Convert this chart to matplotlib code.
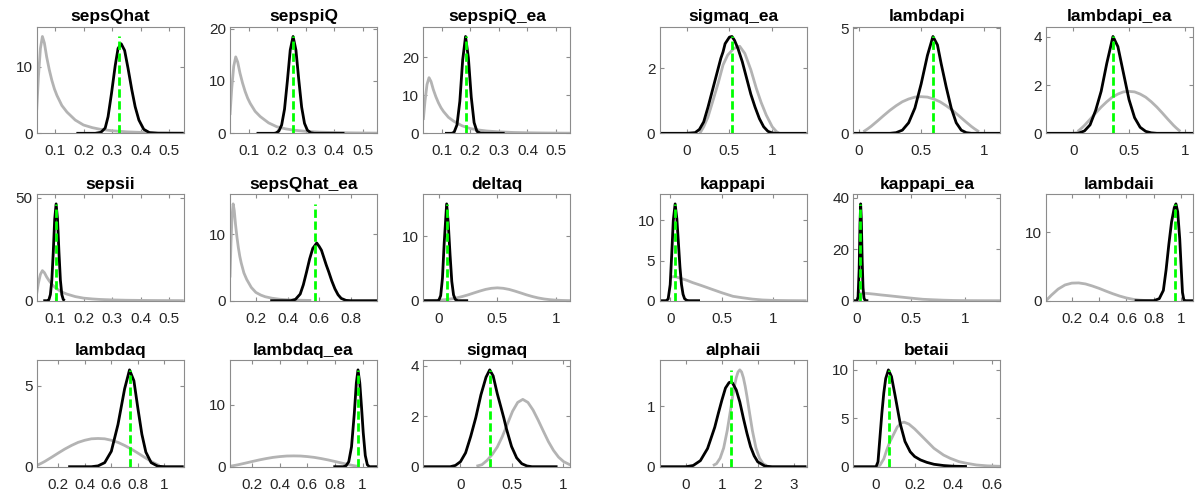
import matplotlib
matplotlib.use("Agg")
import matplotlib.pyplot as plt
from matplotlib.ticker import FormatStrFormatter

plt.rcParams['font.family'] = ['Liberation Sans', 'DejaVu Sans']

# ---- shared priors ----
seps_prior_x = [0.035, 0.041, 0.048, 0.055, 0.062, 0.07, 0.079, 0.088, 0.097, 0.106, 0.123, 0.141,
                0.17, 0.199, 0.23, 0.258, 0.3, 0.35, 0.4, 0.45, 0.5, 0.55]
seps_prior_y = [3.5, 8.5, 12.8, 14.6, 13.6, 11.5, 9.6, 8.0, 6.7, 5.7, 4.2, 3.2,
                2.0, 1.25, 0.85, 0.6, 0.38, 0.22, 0.14, 0.09, 0.06, 0.04]

beta_prior_x = [0.038, 0.05, 0.075, 0.1, 0.15, 0.2, 0.25, 0.3, 0.35, 0.4, 0.45, 0.5,
                0.55, 0.6, 0.65, 0.7, 0.75, 0.8, 0.85, 0.9, 0.925, 0.95, 0.962]
beta_prior_y = [0.08, 0.12, 0.22, 0.33, 0.58, 0.84, 1.09, 1.31, 1.5, 1.63, 1.72, 1.74,
                1.72, 1.63, 1.5, 1.31, 1.09, 0.84, 0.58, 0.33, 0.22, 0.12, 0.08]

kappa_prior_x = [0.0, 0.03, 0.06, 0.1, 0.16, 0.22, 0.29, 0.35, 0.4, 0.5, 0.61, 0.7, 0.8, 0.9,
                 1.0, 1.15, 1.326]
kappa_prior_y = [2.9, 3.0, 2.95, 2.8, 2.55, 2.25, 1.95, 1.68, 1.45, 1.0, 0.55, 0.37, 0.2, 0.09,
                 0.04, 0.015, 0.0]

# ---- posteriors and modes ----
sepsQhat_x = [0.174, 0.24, 0.26, 0.275, 0.285, 0.297, 0.31, 0.32, 0.331, 0.343, 0.355, 0.368,
              0.38, 0.393, 0.41, 0.43, 0.46, 0.55]
sepsQhat_y = [0, 0, 0.15, 0.8, 2.5, 6.0, 10.2, 12.8, 13.5, 12.5, 9.8, 6.6,
              4.0, 2.0, 0.6, 0.1, 0, 0]
sepsQhat_mode = 0.325

sepspiQ_x = [0.128, 0.19, 0.196, 0.206, 0.216, 0.226, 0.236, 0.246, 0.256, 0.266, 0.276, 0.286,
             0.296, 0.306, 0.318, 0.33, 0.436]
sepspiQ_y = [0, 0, 0.07, 0.4, 1.6, 4.6, 10, 15.9, 18.5, 15.9, 10.2, 5.0,
             1.9, 0.6, 0.1, 0, 0]
sepspiQ_mode = 0.254

sepspiQ_ea_x = [0.111, 0.135, 0.143, 0.153, 0.163, 0.173, 0.183, 0.193, 0.203, 0.213, 0.223,
                0.235, 0.25, 0.32]
sepspiQ_ea_y = [0, 0, 0.3, 2.2, 8.4, 19.3, 25.4, 19.8, 9.5, 2.8, 0.5, 0.05, 0, 0]
sepspiQ_ea_mode = 0.183

sigmaq_ea_prior_x = [0.155, 0.2, 0.25, 0.31, 0.37, 0.426, 0.48, 0.55, 0.62, 0.68, 0.75,
                     0.814, 0.87, 0.93, 1.0, 1.05, 1.085]
sigmaq_ea_prior_y = [0, 0.2, 0.5, 1.02, 1.55, 2.1, 2.4, 2.6, 2.67, 2.45, 1.95,
                     1.38, 0.95, 0.56, 0.2, 0.05, 0]
sigmaq_ea_x = [-0.316, 0.0, 0.1, 0.15, 0.2, 0.25, 0.3, 0.35, 0.4, 0.426, 0.45, 0.5, 0.53, 0.56,
               0.6, 0.65, 0.7, 0.75, 0.8, 0.85, 0.9, 0.95, 1.0, 1.05, 1.4]
sigmaq_ea_y = [0, 0, 0.02, 0.12, 0.35, 0.8, 1.3, 1.8, 2.3, 2.5, 2.75, 2.95, 2.97, 2.85,
               2.6, 2.2, 1.7, 1.2, 0.8, 0.45, 0.2, 0.06, 0.01, 0, 0]
sigmaq_ea_mode = 0.532

lambdapi_x = [-0.042, 0.25, 0.3, 0.35, 0.4, 0.45, 0.5, 0.55, 0.594, 0.63, 0.66, 0.7, 0.74,
              0.78, 0.82, 0.86, 0.9, 1.132]
lambdapi_y = [0, 0, 0.03, 0.15, 0.5, 1.2, 2.35, 3.7, 4.6, 4.2, 3.3, 2.2, 1.2,
              0.5, 0.15, 0.03, 0, 0]
lambdapi_mode = 0.594

lambdapi_ea_x = [-0.246, 0.0, 0.05, 0.1, 0.15, 0.2, 0.25, 0.3, 0.356, 0.4, 0.45, 0.5, 0.55,
                 0.6, 0.65, 0.7, 0.75, 1.075]
lambdapi_ea_y = [0, 0, 0.01, 0.1, 0.35, 0.95, 1.75, 2.9, 4.02, 3.6, 2.5, 1.4, 0.65,
                 0.25, 0.08, 0.02, 0, 0]
lambdapi_ea_mode = 0.356

sepsii_x = [0.058, 0.075, 0.078, 0.083, 0.088, 0.093, 0.098, 0.103, 0.108, 0.113, 0.118,
            0.123, 0.128, 0.133]
sepsii_y = [0, 0, 0.6, 3, 10, 23.5, 39.5, 47, 39.5, 23.5, 10, 3, 0.6, 0]
sepsii_mode = 0.102

sepsQhat_ea_x = [0.29, 0.42, 0.45, 0.48, 0.5, 0.52, 0.54, 0.56, 0.585, 0.6, 0.615, 0.63, 0.645,
                 0.661, 0.68, 0.7, 0.72, 0.74, 0.77, 0.8, 0.967]
sepsQhat_ea_y = [0, 0, 0.2, 1.0, 2.4, 4.3, 6.3, 7.9, 8.7, 8.2, 7.6, 6.5, 5.4,
                 4.35, 3.0, 1.8, 0.9, 0.35, 0.05, 0, 0]
sepsQhat_ea_mode = 0.575

deltaq_prior_x = [-0.13, -0.05, 0.0, 0.05, 0.1, 0.15, 0.2, 0.25, 0.3, 0.35, 0.4, 0.45, 0.5,
                  0.55, 0.6, 0.65, 0.7, 0.75, 0.8, 0.85, 0.9, 0.95, 1.0, 1.05, 1.125]
deltaq_prior_y = [0.01, 0.044, 0.09, 0.16, 0.27, 0.43, 0.65, 0.91, 1.21, 1.5, 1.76, 1.93, 2.0,
                  1.93, 1.76, 1.5, 1.21, 0.91, 0.65, 0.43, 0.27, 0.16, 0.09, 0.044, 0.01]
deltaq_x = [-0.134, -0.01, 0.0, 0.015, 0.03, 0.045, 0.066, 0.08, 0.095, 0.11, 0.125, 0.14,
            0.16, 0.25]
deltaq_y = [0, 0, 0.1, 0.8, 3.5, 9, 15.06, 12, 7.2, 3, 0.9, 0.2, 0, 0]
deltaq_mode = 0.066

kappapi_x = [-0.104, -0.04, -0.02, 0.0, 0.015, 0.03, 0.048, 0.065, 0.08, 0.095, 0.11, 0.125,
             0.14, 0.16, 0.18, 0.29]
kappapi_y = [0, 0, 0.2, 2.0, 5.8, 10, 12.07, 10.2, 7.2, 4.2, 2.0, 0.8, 0.25, 0.05, 0, 0]
kappapi_mode = 0.048

kappapi_ea_x = [-0.034, 0.0, 0.01, 0.02, 0.028, 0.034, 0.04, 0.048, 0.056, 0.065, 0.075,
                0.085, 0.105]
kappapi_ea_y = [0, 0, 1.5, 12, 30, 37.6, 32, 16, 5, 1, 0.1, 0, 0]
kappapi_ea_mode = 0.03

lambdaii_prior_x = [0.011, 0.05, 0.1, 0.15, 0.2, 0.25, 0.3, 0.35, 0.4, 0.45, 0.5, 0.55, 0.6,
                    0.65, 0.7, 0.75, 0.8]
lambdaii_prior_y = [0.0, 0.8, 1.7, 2.3, 2.57, 2.6, 2.45, 2.15, 1.8, 1.4, 1.02, 0.68, 0.4,
                    0.2, 0.08, 0.02, 0.0]
lambdaii_x = [0.66, 0.8, 0.84, 0.87, 0.89, 0.91, 0.93, 0.95, 0.962, 0.975, 0.99, 1.0, 1.01,
              1.02, 1.03, 1.087]
lambdaii_y = [0, 0, 0.3, 1.5, 4.5, 8.2, 11.5, 13.6, 14.15, 13, 9, 5, 1.2, 0.1, 0, 0]
lambdaii_mode = 0.952

lambdaq_x = [0.275, 0.45, 0.5, 0.55, 0.6, 0.65, 0.7, 0.737, 0.77, 0.8, 0.83, 0.86, 0.9,
             0.95, 1.0, 1.145]
lambdaq_y = [0, 0, 0.05, 0.25, 0.95, 2.6, 4.8, 5.97, 5.3, 3.6, 2.0, 0.9, 0.25, 0.03, 0, 0]
lambdaq_mode = 0.737

lambdaq_ea_x = [0.788, 0.86, 0.88, 0.9, 0.92, 0.94, 0.955, 0.967, 0.98, 0.993, 1.005, 1.02,
                1.035, 1.05, 1.105]
lambdaq_ea_y = [0, 0, 0.15, 0.8, 3.2, 8.5, 13.5, 15.6, 13.5, 9.5, 5.5, 1.8, 0.3, 0, 0]
lambdaq_ea_mode = 0.965

sigmaq_prior_x = [0.156, 0.21, 0.26, 0.31, 0.36, 0.41, 0.46, 0.51, 0.56, 0.61, 0.66, 0.71,
                  0.76, 0.81, 0.86, 0.91, 0.96, 1.01, 1.075]
sigmaq_prior_y = [0.02, 0.08, 0.25, 0.48, 0.78, 1.2, 1.7, 2.2, 2.55, 2.67, 2.55, 2.25,
                  1.85, 1.42, 1.0, 0.65, 0.38, 0.2, 0.07]
sigmaq_x = [-0.364, -0.1, -0.05, 0.0, 0.05, 0.1, 0.15, 0.2, 0.25, 0.286, 0.32, 0.36, 0.4,
            0.425, 0.45, 0.5, 0.55, 0.6, 0.65, 0.7, 0.95]
sigmaq_y = [0, 0, 0.05, 0.2, 0.55, 1.2, 1.95, 2.85, 3.55, 3.84, 3.6, 2.9, 2.3,
            1.92, 1.5, 0.8, 0.35, 0.12, 0.03, 0, 0]
sigmaq_mode = 0.286

alphaii_prior_x = [0.75, 0.85, 0.95, 1.05, 1.15, 1.25, 1.3, 1.35, 1.4, 1.45, 1.5, 1.55, 1.6,
                   1.65, 1.7, 1.75, 1.85, 1.95, 2.05, 2.15, 2.25]
alphaii_prior_y = [0.018, 0.05, 0.14, 0.31, 0.6, 0.97, 1.16, 1.33, 1.47, 1.565, 1.6, 1.565, 1.47,
                   1.33, 1.16, 0.97, 0.6, 0.31, 0.14, 0.05, 0.018]
alphaii_x = [-0.74, 0.0, 0.2, 0.4, 0.6, 0.8, 0.9, 1.0, 1.1, 1.2, 1.25, 1.3, 1.4, 1.5, 1.6,
             1.7, 1.8, 1.9, 2.0, 2.2, 2.4, 3.36]
alphaii_y = [0, 0, 0.02, 0.1, 0.3, 0.65, 0.88, 1.1, 1.3, 1.39, 1.4, 1.38, 1.27, 1.07, 0.8,
             0.55, 0.33, 0.18, 0.08, 0.01, 0, 0]
alphaii_mode = 1.25

betaii_prior_x = [0.0, 0.02, 0.04, 0.055, 0.07, 0.09, 0.11, 0.13, 0.145, 0.17, 0.2, 0.25,
                  0.3, 0.35, 0.384, 0.43, 0.47, 0.52, 0.575, 0.644]
betaii_prior_y = [0.0, 0.15, 0.8, 1.7, 2.5, 3.3, 4.1, 4.5, 4.6, 4.4, 3.9, 2.9,
                  1.9, 1.2, 0.87, 0.52, 0.35, 0.18, 0.09, 0.04]
betaii_x = [-0.118, 0.0, 0.01, 0.02, 0.03, 0.04, 0.05, 0.064, 0.08, 0.1, 0.125, 0.15, 0.177,
            0.2, 0.23, 0.263, 0.3, 0.35, 0.4, 0.471]
betaii_y = [0, 0, 0.5, 3.0, 5.5, 7.6, 9.1, 9.99, 9.3, 7.2, 4.45, 2.6, 1.54,
            1.05, 0.7, 0.45, 0.25, 0.12, 0.05, 0.02]
betaii_mode = 0.069

# tick values
ticks_seps = [0.1, 0.2, 0.3, 0.4, 0.5]
ticks_half = [0, 0.5, 1]
ticks_fifth = [0.2, 0.4, 0.6, 0.8, 1]

# (title, prior x, prior y, posterior x, posterior y, mode, xticks, yticks)
left_panels = [
    ("sepsQhat", seps_prior_x, seps_prior_y, sepsQhat_x, sepsQhat_y, sepsQhat_mode, ticks_seps, [0, 10]),
    ("sepspiQ", seps_prior_x, seps_prior_y, sepspiQ_x, sepspiQ_y, sepspiQ_mode, ticks_seps, [0, 10, 20]),
    ("sepspiQ_ea", seps_prior_x, seps_prior_y, sepspiQ_ea_x, sepspiQ_ea_y, sepspiQ_ea_mode, ticks_seps, [0, 10, 20]),
    ("sepsii", seps_prior_x, seps_prior_y, sepsii_x, sepsii_y, sepsii_mode, ticks_seps, [0, 50]),
    ("sepsQhat_ea", seps_prior_x, seps_prior_y, sepsQhat_ea_x, sepsQhat_ea_y, sepsQhat_ea_mode,
     [0.2, 0.4, 0.6, 0.8], [0, 10]),
    ("deltaq", deltaq_prior_x, deltaq_prior_y, deltaq_x, deltaq_y, deltaq_mode, ticks_half, [0, 10]),
    ("lambdaq", beta_prior_x, beta_prior_y, lambdaq_x, lambdaq_y, lambdaq_mode, ticks_fifth, [0, 5]),
    ("lambdaq_ea", beta_prior_x, beta_prior_y, lambdaq_ea_x, lambdaq_ea_y, lambdaq_ea_mode, ticks_fifth, [0, 10]),
    ("sigmaq", sigmaq_prior_x, sigmaq_prior_y, sigmaq_x, sigmaq_y, sigmaq_mode, ticks_half, [0, 2, 4]),
]
right_panels = [
    ("sigmaq_ea", sigmaq_ea_prior_x, sigmaq_ea_prior_y, sigmaq_ea_x, sigmaq_ea_y, sigmaq_ea_mode, ticks_half, [0, 2]),
    ("lambdapi", beta_prior_x, beta_prior_y, lambdapi_x, lambdapi_y, lambdapi_mode, ticks_half, [0, 5]),
    ("lambdapi_ea", beta_prior_x, beta_prior_y, lambdapi_ea_x, lambdapi_ea_y, lambdapi_ea_mode, ticks_half, [0, 2, 4]),
    ("kappapi", kappa_prior_x, kappa_prior_y, kappapi_x, kappapi_y, kappapi_mode, ticks_half, [0, 5, 10]),
    ("kappapi_ea", kappa_prior_x, kappa_prior_y, kappapi_ea_x, kappapi_ea_y, kappapi_ea_mode, ticks_half, [0, 20, 40]),
    ("lambdaii", lambdaii_prior_x, lambdaii_prior_y, lambdaii_x, lambdaii_y, lambdaii_mode, ticks_fifth, [0, 10]),
    ("alphaii", alphaii_prior_x, alphaii_prior_y, alphaii_x, alphaii_y, alphaii_mode, [0, 1, 2, 3], [0, 1]),
    ("betaii", betaii_prior_x, betaii_prior_y, betaii_x, betaii_y, betaii_mode, [0, 0.2, 0.4, 0.6], [0, 5, 10]),
]

W, H = 1195, 501
col_left = [36.7, 230, 423.3, 659.5, 853.3, 1046]
row_bottom = [133.3, 300.7, 466.7]
ax_w, ax_h = 147, 106.5
spine_col = "#8c8c8c"

fig = plt.figure(figsize=(W / 100, H / 100), dpi=100)


def draw_panel(ax, title, px, py, qx, qy, mode, xt, yt):
    top0 = max(max(py), max(qy))
    ax.plot(px, py, color=(0.7, 0.7, 0.7), linewidth=2.0, solid_capstyle="butt")
    ax.plot(qx, qy, color="black", linewidth=2.0, solid_capstyle="butt")
    ax.plot([mode, mode], [0, top0], color=(0, 1, 0), linewidth=2.0, linestyle=(0, (3.0, 1.3)))
    ax.set_xlim(min(min(px), min(qx)), max(max(px), max(qx)))
    ax.set_ylim(0, 1.1 * top0)
    ax.set_xticks(xt)
    ax.set_yticks(yt)
    ax.xaxis.set_major_formatter(FormatStrFormatter("%g"))
    ax.yaxis.set_major_formatter(FormatStrFormatter("%g"))
    ax.tick_params(direction="in", length=3, width=0.8, top=True, right=True, color=spine_col,
                   labelcolor="#262626", labelsize=11)
    ax.tick_params(axis="x", pad=8)
    ax.tick_params(axis="y", pad=3)
    for s in ax.spines.values():
        s.set_color(spine_col)
        s.set_linewidth(0.8)
    ax.set_title(title, fontsize=12.5, fontweight="bold", pad=4)


for i, p in enumerate(left_panels):
    r, c = divmod(i, 3)
    ax = fig.add_axes([col_left[c] / W, 1 - row_bottom[r] / H, ax_w / W, ax_h / H])
    draw_panel(ax, *p)

for i, p in enumerate(right_panels):
    r, c = divmod(i, 3)
    ax = fig.add_axes([col_left[3 + c] / W, 1 - row_bottom[r] / H, ax_w / W, ax_h / H])
    draw_panel(ax, *p)

fig.savefig("out.png", dpi=100)
